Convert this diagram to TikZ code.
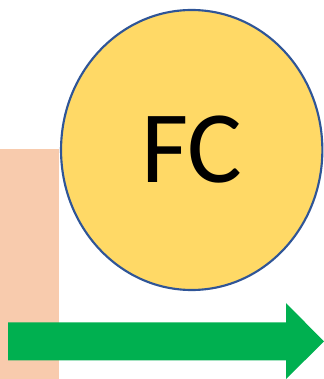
\documentclass[tikz,border=0pt]{standalone}
\usepackage{fontspec}
\setmainfont{Carlito}
\usetikzlibrary{shapes.geometric}
\definecolor{peach}{HTML}{F8CBAD}
\definecolor{gold}{HTML}{FFD966}
\definecolor{rim}{HTML}{2F5597}
\definecolor{grn}{HTML}{00B050}
\begin{document}
\begin{tikzpicture}[x=0.75pt,y=0.75pt,
 fcnode/.style={ellipse,draw=rim,line width=1.6pt,fill=gold,inner sep=0pt,
  minimum width=196pt,minimum height=210pt,font=\fontsize{77}{80}\selectfont}]
\useasboundingbox (0,0) rectangle (324,379);
\fill[peach] (0,0) rectangle (59,230);
\node[fcnode] (fc) at (191.7,229) {FC};
\fill[grn] (8,18.5)--(286,18.5)--(286,0)--(324,37.5)--(286,76)--(286,56.5)--(8,56.5)--cycle;
\end{tikzpicture}
\end{document}
